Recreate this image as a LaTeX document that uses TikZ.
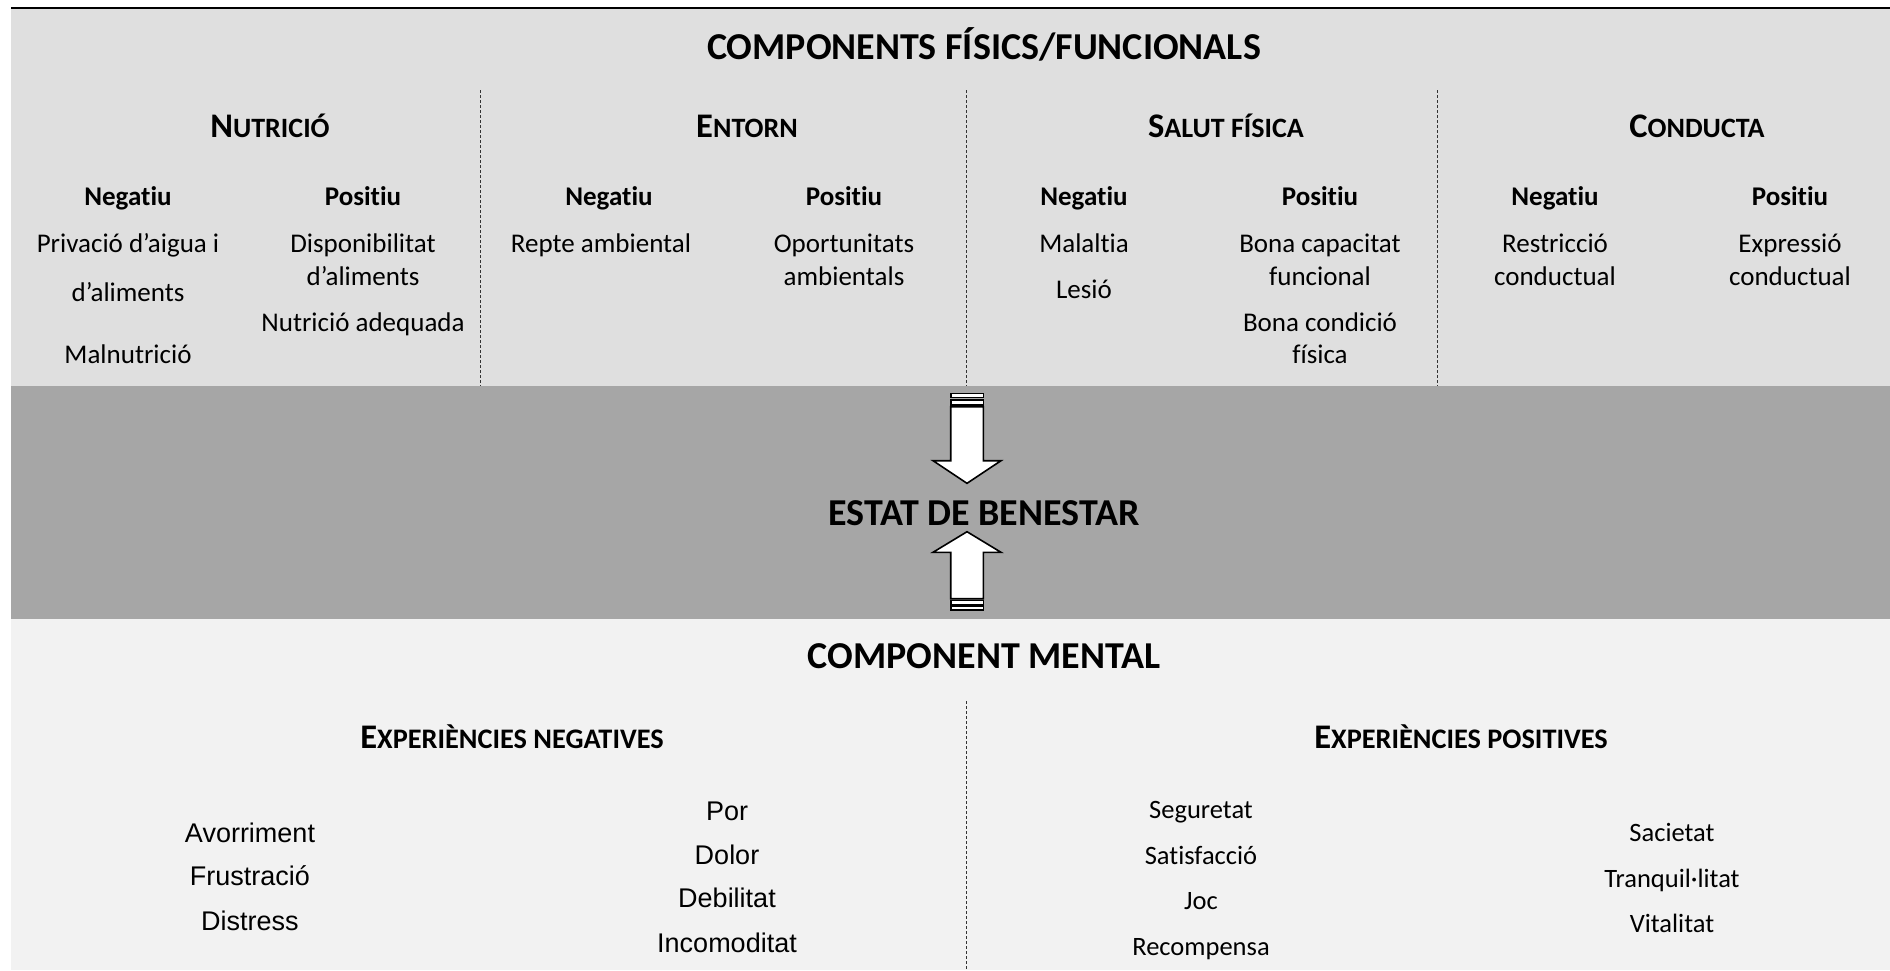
\documentclass[tikz,border=0pt]{standalone}
\usepackage{fontspec}
\setmainfont{Carlito}[Ligatures=NoCommon]
\newfontfamily\arialf{Liberation Sans}
\definecolor{panelphys}{HTML}{DFDFDF}
\definecolor{panelstate}{HTML}{A6A6A6}
\definecolor{panelmind}{HTML}{F2F2F2}
% fake small caps: first letter at #1 pt, the rest at #2 pt
\newcommand\capsmall[4]{{\fontsize{#1}{#1}\selectfont #3}{\fontsize{#2}{#2}\selectfont #4}}
\tikzset{
  ttl/.style={font=\bfseries\fontsize{38}{45}\selectfont, anchor=mid, inner sep=0pt},
  hd/.style={font=\bfseries, anchor=mid, inner sep=0pt},
  sub/.style={font=\bfseries\fontsize{27}{32}\selectfont, anchor=mid, inner sep=0pt},
  itm/.style={font=\fontsize{27}{32}\selectfont, anchor=mid, inner sep=0pt},
  itmb/.style={font=\fontsize{26.5}{32}\selectfont, anchor=mid, inner sep=0pt},
  itma/.style={font=\arialf\fontsize{27}{32}\selectfont, anchor=mid, inner sep=0pt},
  divider/.style={draw=black!80, line width=1pt, dash pattern=on 3pt off 2pt},
  bigarrow/.style={draw=black, fill=white, line width=1.6pt, line join=miter},
}
\begin{document}
\begin{tikzpicture}[x=1pt, y=-1pt]
\useasboundingbox (0,0) rectangle (1890,970);

% panels
\fill[panelphys] (11,8) rectangle (1890,386);
\fill[panelstate] (11,386) rectangle (1890,619);
\fill[panelmind] (11,619) rectangle (1890,970);
\draw[line width=2.5pt] (11,8.2) -- (1890,8.2);

% physical / functional components
\node[ttl] (tfis) at (984,57) {COMPONENTS FÍSICS/FUNCIONALS};

\coordinate (d1t) at (480,90);  \coordinate (d1b) at (480,386);
\coordinate (d2t) at (966,90);  \coordinate (d2b) at (966,386);
\coordinate (d3t) at (1437,90); \coordinate (d3b) at (1437,386);
\draw[divider] (d1t) -- (d1b);
\draw[divider] (d2t) -- (d2b);
\draw[divider] (d3t) -- (d3b);

\node[hd] (hN) at (270,135) {\capsmall{34.5}{28}{N}{UTRICIÓ}};
\node[hd] (hE) at (747,135) {\capsmall{34.5}{28}{E}{NTORN}};
\node[hd] (hS) at (1226,135) {\capsmall{34.5}{28}{S}{ALUT FÍSICA}};
\node[hd] (hC) at (1697,135) {\capsmall{34.5}{28}{C}{ONDUCTA}};

\node[sub] (sN1) at (128,203) {Negatiu};
\node[sub] (sN2) at (363,203) {Positiu};
\node[sub] (sE1) at (609,203) {Negatiu};
\node[sub] (sE2) at (844,203) {Positiu};
\node[sub] (sS1) at (1084,203) {Negatiu};
\node[sub] (sS2) at (1320,203) {Positiu};
\node[sub] (sC1) at (1555,203) {Negatiu};
\node[sub] (sC2) at (1790,203) {Positiu};

\node[itm] (nN1) at (128,250) {Privació d’aigua i};
\node[itm] (nN2) at (128,299) {d’aliments};
\node[itm] (nN3) at (128,361) {Malnutrició};
\node[itm] (pN1) at (363,250) {Disponibilitat};
\node[itm] (pN2) at (363,283) {d’aliments};
\node[itm] (pN3) at (363,329) {Nutrició adequada};

\node[itm] (nE1) at (601,250) {Repte ambiental};
\node[itm] (pE1) at (844,250) {Oportunitats};
\node[itm] (pE2) at (844,283) {ambientals};

\node[itm] (nS1) at (1084,250) {Malaltia};
\node[itm] (nS2) at (1084,296) {Lesió};
\node[itm] (pS1) at (1320,250) {Bona capacitat};
\node[itm] (pS2) at (1320,283) {funcional};
\node[itm] (pS3) at (1320,329) {Bona condició};
\node[itm] (pS4) at (1320,361) {física};

\node[itm] (nC1) at (1555,250) {Restricció};
\node[itm] (nC2) at (1555,283) {conductual};
\node[itm] (pC1) at (1790,250) {Expressió};
\node[itm] (pC2) at (1790,283) {conductual};

% welfare state with the two converging arrows
\node[ttl] (est) at (984,523) {ESTAT DE BENESTAR};

\draw[bigarrow] (950.7,393.3) rectangle (983.3,397.3);
\draw[bigarrow] (950.7,399.8) rectangle (983.3,404.7);
\draw[bigarrow] (950.7,406.7) -- (983.3,406.7) -- (983.3,460.7) -- (1001,460.7)
  -- (967,483.3) -- (933,460.7) -- (950.7,460.7) -- cycle;

\draw[bigarrow] (950.7,598.7) -- (983.3,598.7) -- (983.3,552.3) -- (1001,552.3)
  -- (967,531.7) -- (933,552.3) -- (950.7,552.3) -- cycle;
\draw[bigarrow] (950.7,600.3) rectangle (983.3,604.7);
\draw[bigarrow] (950.7,606.3) rectangle (983.3,610);

% mental component
\node[ttl] (cm) at (984,666) {COMPONENT MENTAL};
\coordinate (d4t) at (966,701); \coordinate (d4b) at (966,970);
\draw[divider] (d4t) -- (d4b);

\node[hd] (en) at (512,746) {\capsmall{34.5}{28.3}{E}{XPERIÈNCIES NEGATIVES}};
\node[hd] (ep) at (1461,746) {\capsmall{34.5}{28.3}{E}{XPERIÈNCIES POSITIVES}};

\node[itma] (a1) at (250,840) {Avorriment};
\node[itma] (a2) at (250,883) {Frustració};
\node[itma] (a3) at (250,928) {Distress};
\node[itma] (b1) at (727,818) {Por};
\node[itma] (b2) at (727,862) {Dolor};
\node[itma] (b3) at (727,905) {Debilitat};
\node[itma] (b4) at (727,950) {Incomoditat};

\node[itmb] (c1) at (1201,816) {Seguretat};
\node[itmb] (c2) at (1201,862) {Satisfacció};
\node[itmb] (c3) at (1201,907) {Joc};
\node[itmb] (c4) at (1201,953) {Recompensa};
\node[itmb] (e1) at (1672,839) {Sacietat};
\node[itmb] (e2) at (1672,885) {Tranquil·litat};
\node[itmb] (e3) at (1672,930) {Vitalitat};
\end{tikzpicture}
\end{document}
